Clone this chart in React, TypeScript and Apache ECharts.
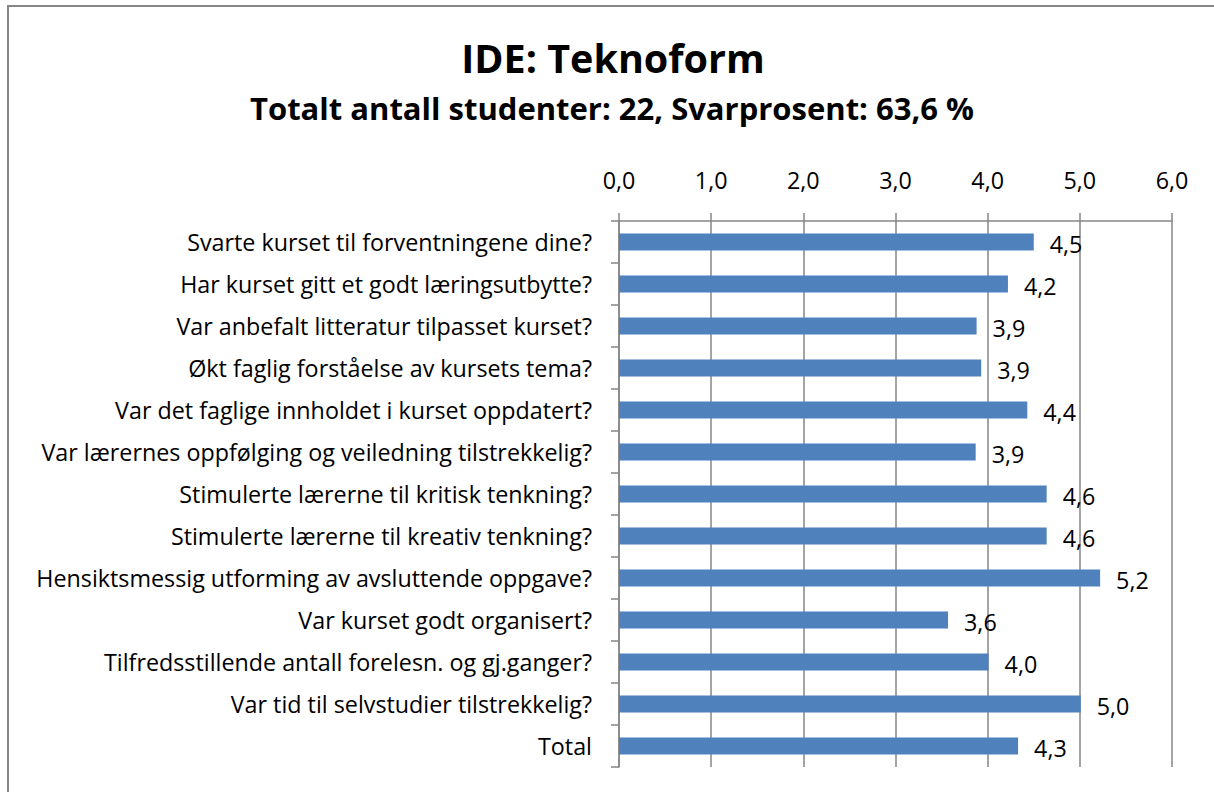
import React, { useEffect, useRef } from "react";
import * as echarts from "echarts";

const titleText = "IDE: Teknoform";
const subtitleText = "Totalt antall studenter: 22, Svarprosent: 63,6 %";

const categories = [
  "Svarte kurset til forventningene dine?",
  "Har kurset gitt et godt læringsutbytte?",
  "Var anbefalt litteratur tilpasset kurset?",
  "Økt faglig forståelse av kursets tema?",
  "Var det faglige innholdet i kurset oppdatert?",
  "Var lærernes oppfølging og veiledning tilstrekkelig?",
  "Stimulerte lærerne til kritisk tenkning?",
  "Stimulerte lærerne til kreativ tenkning?",
  "Hensiktsmessig utforming av avsluttende oppgave?",
  "Var kurset godt organisert?",
  "Tilfredsstillende antall forelesn. og gj.ganger?",
  "Var tid til selvstudier tilstrekkelig?",
  "Total",
];

const values = [4.5, 4.22, 3.88, 3.93, 4.43, 3.87, 4.64, 4.64, 5.22, 3.57, 4.01, 5.01, 4.33];

const axisMin = 0;
const axisMax = 6;
const axisInterval = 1;

const fmt = (v: number) => v.toFixed(1).replace(".", ",");

const FONT = "'Open Sans', 'Noto Sans', sans-serif";
const LABEL_SIZE = 23.3;

export default function App() {
  const ref = useRef<HTMLDivElement>(null);
  useEffect(() => {
    if (!ref.current) return;
    const chart = echarts.init(ref.current, null, { renderer: "svg" });
    chart.setOption({
      animation: false,
      backgroundColor: "#ffffff",
      textStyle: { fontFamily: FONT },
      graphic: [
        {
          type: "rect",
          shape: { x: 8, y: 6, width: 1230, height: 820 },
          style: { fill: "none", stroke: "#868686", lineWidth: 2 },
          silent: true,
        },
        {
          type: "text",
          x: 613,
          y: 58,
          style: {
            text: titleText,
            fontFamily: FONT,
            fontWeight: "bold",
            fontSize: 39.5,
            fill: "#000000",
            align: "center",
            verticalAlign: "middle",
          },
        },
        {
          type: "text",
          x: 612,
          y: 108,
          style: {
            text: subtitleText,
            fontFamily: FONT,
            fontWeight: "bold",
            fontSize: 31,
            fill: "#000000",
            align: "center",
            verticalAlign: "middle",
          },
        },
      ],
      grid: { left: 619, right: 42, top: 221, bottom: 25, containLabel: false },
      xAxis: {
        type: "value",
        position: "top",
        min: axisMin,
        max: axisMax,
        interval: axisInterval,
        axisLine: { show: true, lineStyle: { color: "#868686", width: 1.5 } },
        axisTick: { show: true, length: 8, lineStyle: { color: "#868686", width: 1.5 } },
        splitLine: { show: true, lineStyle: { color: "#868686", width: 1.5 } },
        axisLabel: {
          formatter: (v: number) => fmt(v),
          fontFamily: FONT,
          fontSize: LABEL_SIZE,
          color: "#000000",
          margin: 30,
        },
      },
      yAxis: {
        type: "category",
        inverse: true,
        data: categories,
        axisLine: { show: true, lineStyle: { color: "#868686", width: 1.5 } },
        axisTick: { show: true, length: 8, alignWithLabel: false, lineStyle: { color: "#868686", width: 1.5 } },
        splitLine: { show: false },
        axisLabel: {
          fontFamily: FONT,
          fontSize: LABEL_SIZE,
          color: "#000000",
          margin: 27,
          interval: 0,
        },
      },
      series: [
        {
          type: "bar",
          data: values,
          barWidth: 17,
          itemStyle: { color: "#4F81BD" },
          label: {
            show: true,
            position: "right",
            distance: 16,
            offset: [0, 2],
            formatter: (p: any) => fmt(p.value),
            fontFamily: FONT,
            fontSize: LABEL_SIZE,
            color: "#000000",
          },
        },
      ],
    });
    return () => chart.dispose();
  }, []);
  return (
    <div
      ref={ref}
      style={{ position: "fixed", left: 0, top: 0, width: 1214, height: 792 }}
    />
  );
}
